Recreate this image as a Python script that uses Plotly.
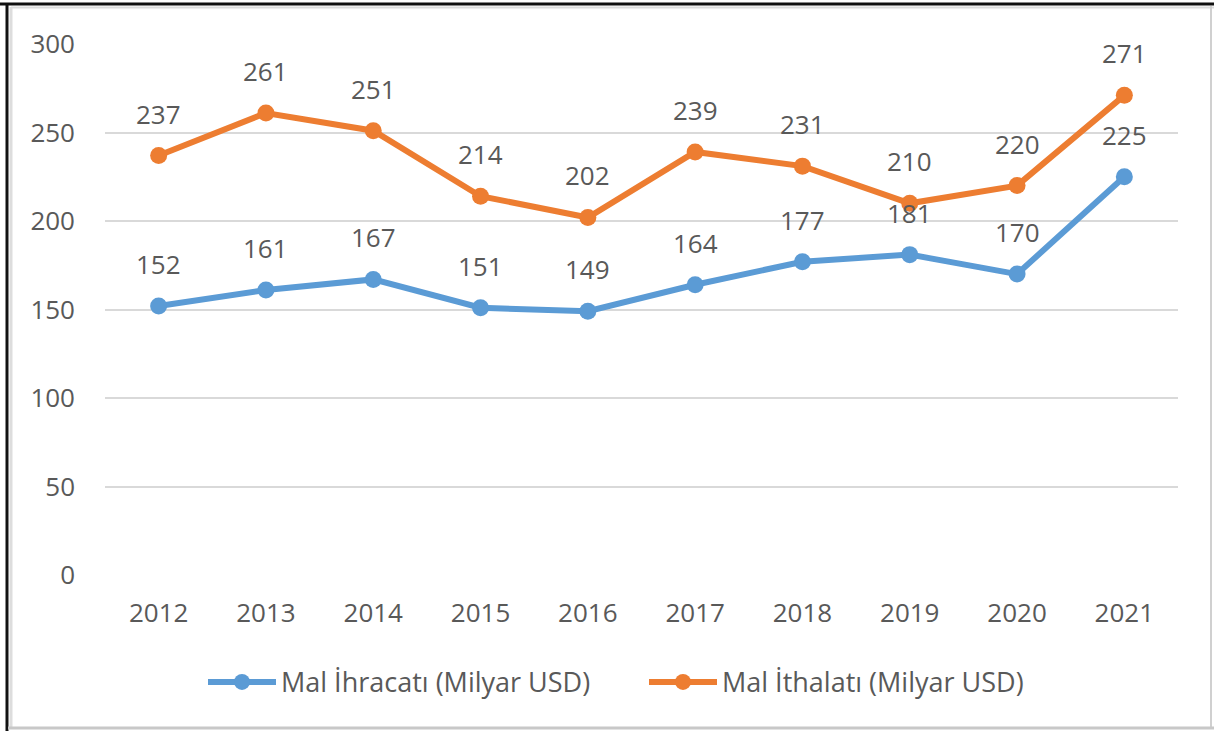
import plotly.graph_objects as go

years = [2012, 2013, 2014, 2015, 2016, 2017, 2018, 2019, 2020, 2021]
year_labels = ["2012", "2013", "2014", "2015", "2016", "2017", "2018", "2019", "2020", "2021"]
exports = [152, 161, 167, 151, 149, 164, 177, 181, 170, 225]
imports = [237, 261, 251, 214, 202, 239, 231, 210, 220, 271]
y_ticks = [0, 50, 100, 150, 200, 250, 300]

BLUE = "#5B9BD5"
ORANGE = "#ED7D31"
TXT = "#595959"
FONT = "Open Sans, Liberation Sans, sans-serif"

W, H = 1214, 731
L, R, T, B = 105, 1178, 44, 575

fig = go.Figure()
fig.add_trace(go.Scatter(x=years, y=exports, mode="lines+markers", name="Mal İhracatı (Milyar USD)",
                         line=dict(color=BLUE, width=6), marker=dict(size=17, color=BLUE)))
fig.add_trace(go.Scatter(x=years, y=imports, mode="lines+markers", name="Mal İthalatı (Milyar USD)",
                         line=dict(color=ORANGE, width=6), marker=dict(size=17, color=ORANGE)))

annotations = []
for series in (exports, imports):
    for x, v in zip(years, series):
        annotations.append(dict(x=x, y=v, text=str(v), showarrow=False, yshift=42,
                                font=dict(size=26, color=TXT, family=FONT)))

def px_x(p):
    return (p - L) / (R - L)

def px_y(p):
    return (B - p) / (B - T)

shapes = [
    dict(type="line", xref="paper", yref="paper", x0=px_x(0), x1=px_x(W), y0=px_y(4), y1=px_y(4),
         line=dict(color="#111111", width=3)),
    dict(type="line", xref="paper", yref="paper", x0=px_x(7), x1=px_x(7), y0=px_y(3), y1=px_y(H),
         line=dict(color="#111111", width=3)),
    dict(type="line", xref="paper", yref="paper", x0=px_x(11), x1=px_x(11), y0=px_y(7), y1=px_y(728),
         line=dict(color="#DDDDDD", width=3)),
    dict(type="line", xref="paper", yref="paper", x0=px_x(11), x1=px_x(W), y0=px_y(7.5), y1=px_y(7.5),
         line=dict(color="#DDDDDD", width=2)),
    dict(type="line", xref="paper", yref="paper", x0=px_x(1211), x1=px_x(1211), y0=px_y(6), y1=px_y(729),
         line=dict(color="#D0D0D0", width=2)),
    dict(type="line", xref="paper", yref="paper", x0=px_x(8), x1=px_x(W), y0=px_y(728), y1=px_y(728),
         line=dict(color="#C8C8C8", width=3)),
]

fig.update_layout(
    width=W, height=H,
    margin=dict(l=L, r=W - R, t=T, b=H - B),
    paper_bgcolor="white", plot_bgcolor="white",
    font=dict(family=FONT, size=26, color=TXT),
    showlegend=True,
    legend=dict(orientation="h", x=px_x(203), xanchor="left", y=-0.156, yanchor="top",
                font=dict(size=27, color=TXT, family=FONT), itemwidth=68,
                entrywidth=358, entrywidthmode="pixels",
                tracegroupgap=0, bgcolor="rgba(0,0,0,0)"),
    xaxis=dict(range=[2011.5, 2021.5], tickvals=years, ticktext=year_labels,
               showgrid=False, zeroline=False, showline=False,
               ticks="", tickfont=dict(size=26, color=TXT), ticklabelstandoff=20),
    yaxis=dict(range=[0, 300], tickvals=y_ticks, showgrid=True, gridcolor="#D9D9D9", gridwidth=2,
               zeroline=False, showline=False, ticks="", tickfont=dict(size=26, color=TXT),
               ticklabelstandoff=29),
    annotations=annotations,
    shapes=shapes,
)

fig.write_html("out.html", config={"displayModeBar": False},
               post_script="document.body.style.margin='0';document.body.style.overflow='hidden';")
